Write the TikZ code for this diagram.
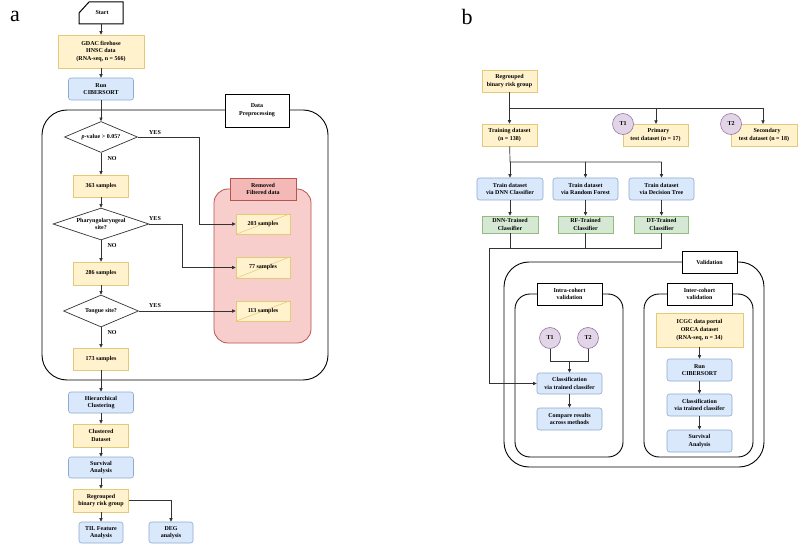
\documentclass[tikz,border=0pt]{standalone}
\usepackage{fontspec}
\setmainfont{Liberation Serif}
\usetikzlibrary{arrows.meta,shapes.geometric}
\definecolor{yfill}{HTML}{FFF2CC}\definecolor{ydraw}{HTML}{E3C979}
\definecolor{bfill}{HTML}{DAE8FC}\definecolor{bdraw}{HTML}{8FAAD0}
\definecolor{gfill}{HTML}{D5E8D4}\definecolor{gdraw}{HTML}{93BC7D}
\definecolor{pfill}{HTML}{E1D5E7}\definecolor{pdraw}{HTML}{9673A6}
\definecolor{rfill}{HTML}{F8CECC}\definecolor{rdraw}{HTML}{B85450}
\definecolor{rlab}{HTML}{F4B9B7}
\definecolor{ln}{HTML}{333333}
\begin{document}
\begin{tikzpicture}[x=1pt,y=-1pt,
  every node/.style={font=\fontsize{6}{7.6}\selectfont\bfseries, align=center, inner sep=0pt},
  ybox/.style={draw=ydraw, fill=yfill, line width=0.6pt},
  bbox/.style={draw=bdraw, fill=bfill, rounded corners=2.5pt, line width=0.6pt},
  gbox/.style={draw=gdraw, fill=gfill, line width=0.6pt},
  tcirc/.style={circle, draw=pdraw, fill=pfill, minimum size=21pt, line width=0.6pt},
  labbox/.style={draw=black, fill=white, line width=0.9pt},
  cont/.style={draw=black, line width=0.9pt},
  dia/.style={diamond, draw=ln, fill=white, line width=0.7pt},
  arr/.style={draw=ln, line width=0.7pt, -{Triangle[length=3.6pt,width=3.2pt]}},
  ln/.style={draw=ln, line width=0.7pt},
  yn/.style={font=\fontsize{6}{7}\selectfont\bfseries}]
\useasboundingbox (0,0) rectangle (800,545);
\fill[white] (0,0) rectangle (800,545);

% panel labels
\node[font=\fontsize{22}{22}\selectfont] (pa) at (15,16) {a};
\node[font=\fontsize{22}{22}\selectfont] (pb) at (467,17) {b};

% ===== Panel a =====
% containers
\draw[cont, rounded corners=25pt] (42,110) rectangle (328,380);
\node[labbox, minimum width=64pt, minimum height=33pt] (dpl) at (257,110.5) {Data\\Preprocessing};
\draw[draw=rdraw, fill=rfill, line width=0.8pt, rounded corners=14pt] (214,189) rectangle (311,343);
\node[draw=rdraw, fill=rlab, line width=0.8pt, minimum width=66pt, minimum height=22pt] (rml) at (263,189) {Removed\\Filtered data};

% start
\draw[line width=1pt] (79,24) -- (79,13) -- (89,2) -- (123,2) -- (123,24) -- cycle;
\node (start) at (102,13) {Start};
\coordinate (stb) at (101,24);

\node[ybox, minimum width=86pt, minimum height=33pt] (gdac) at (101,51.5) {GDAC firehose\\HNSC data\\(RNA-seq, n = 566)};
\node[bbox, minimum width=65pt, minimum height=22pt] (run1) at (101,89) {Run\\CIBERSORT};
\node[dia, minimum width=73pt, minimum height=31pt] (d1) at (101,137) {};
\node (d1t) at (101,137) {\textit{p}-value > 0.05?};
\node[ybox, minimum width=55pt, minimum height=22pt] (s363) at (101,186) {363 samples};
\node[dia, minimum width=96pt, minimum height=32pt] (d2) at (101,224) {};
\node (d2t) at (101,224) {Pharyngolaryngeal\\site?};
\node[ybox, minimum width=55pt, minimum height=23pt] (s286) at (101,273.5) {286 samples};
\node[dia, minimum width=75pt, minimum height=32pt] (d3) at (101,311) {};
\node (d3t) at (101,311) {Tongue site?};
\node[ybox, minimum width=55pt, minimum height=22pt] (s173) at (101,359) {173 samples};

\node[ybox, minimum width=54pt, minimum height=20pt] (r203) at (263,224) {};
\node[ybox, minimum width=54pt, minimum height=21pt] (r77) at (263,267.5) {};
\node[ybox, minimum width=54pt, minimum height=20pt] (r113) at (263,311) {};
\foreach \n in {r203,r77,r113} \draw[ydraw, line width=0.5pt] (\n.south west) -- (\n.north east);
\node (t203) at (263,224) {203 samples};
\node (t77) at (263,267.5) {77 samples};
\node (t113) at (263,311) {113 samples};

\node[bbox, minimum width=65pt, minimum height=21pt] (hc) at (101,402.5) {Hierarchical\\Clustering};
\node[ybox, minimum width=55pt, minimum height=23pt] (cd) at (101,435.5) {Clustered\\Dataset};
\node[bbox, minimum width=65pt, minimum height=21pt] (sa) at (101,467.5) {Survival\\Analysis};
\node[ybox, minimum width=55pt, minimum height=23pt] (rg) at (101,500.5) {Regrouped\\binary risk group};
\node[bbox, minimum width=44pt, minimum height=21pt] (til) at (101,532.5) {TIL Feature\\Analysis};
\node[bbox, minimum width=44pt, minimum height=21pt] (deg) at (171,532.5) {DEG\\analysis};

\draw[arr] (stb) -- (gdac);
\draw[arr] (gdac) -- (run1);
\draw[arr] (run1) -- (d1);
\draw[arr] (d1) -- (s363);
\draw[arr] (s363) -- (d2);
\draw[arr] (d2) -- (s286);
\draw[arr] (s286) -- (d3);
\draw[arr] (d3) -- (s173);
\draw[arr] (s173) -- (hc);
\draw[arr] (hc) -- (cd);
\draw[arr] (cd) -- (sa);
\draw[arr] (sa) -- (rg);
\draw[arr] (rg) -- (til);
\draw[arr] (rg.east) -| (deg.north);
\draw[arr] (d1.east) -- (199,137) |- (r203.west);
\draw[arr] (d2.east) -- (182,224) |- (r77.west);
\draw[arr] (d3.east) -- (r113.west);
\node[yn] (y1) at (155,133) {YES};
\node[yn] (y2) at (155,219) {YES};
\node[yn] (y3) at (155,306) {YES};
\node[yn] (n1) at (112,159) {NO};
\node[yn] (n2) at (112,246) {NO};
\node[yn] (n3) at (112,333) {NO};

% ===== Panel b =====
\node[ybox, minimum width=55pt, minimum height=22pt] (rg2) at (509.5,81) {Regrouped\\binary risk group};
\node[ybox, minimum width=55pt, minimum height=22pt] (train) at (509.5,135) {Training dataset\\(n = 138)};
\node[ybox, minimum width=65pt, minimum height=22pt] (prim) at (655.5,135) {\hspace*{6pt}Primary\\test dataset (n = 17)};
\node[ybox, minimum width=66pt, minimum height=22pt] (sec) at (764,135) {\hspace*{6pt}Secondary\\test dataset (n = 18)};
\node[tcirc] (t1) at (623,124) {T1};
\node[tcirc] (t2) at (731,124) {T2};
\coordinate (j1) at (509.5,108);
\draw[ln] (rg2) -- (j1);
\draw[ln] (j1) -- (763,108);
\draw[arr] (j1) -- (train);
\draw[arr] (656,108) -- (656,124);
\draw[arr] (763,108) -- (763,124);

\node[bbox, minimum width=66pt, minimum height=22pt] (dnn) at (510,189) {Train dataset\\via DNN Classifier};
\node[bbox, minimum width=65pt, minimum height=22pt] (rf) at (585.5,189) {Train dataset\\via Random Forest};
\node[bbox, minimum width=65pt, minimum height=22pt] (dt) at (661.5,189) {Train dataset\\via Decision Tree};
\node[gbox, minimum width=56pt, minimum height=17pt] (dnnc) at (510,224.5) {DNN-Trained\\Classifier};
\node[gbox, minimum width=55pt, minimum height=17pt] (rfc) at (585.5,224.5) {RF-Trained\\Classifier};
\node[gbox, minimum width=54pt, minimum height=17pt] (dtc) at (661.5,224.5) {DT-Trained\\Classifier};
\coordinate (j2) at (510,162);
\draw[ln] (train) -- (j2) -- (661.5,162);
\draw[arr] (j2) -- (dnn);
\draw[arr] (585.5,162) -- (rf);
\draw[arr] (661.5,162) -- (dt);
\draw[arr] (dnn) -- (dnnc);
\draw[arr] (rf) -- (rfc);
\draw[arr] (dt) -- (dtc);
\draw[ln] (dnnc) -- (510,248);
\draw[ln] (rfc) -- (585.5,248);
\draw[ln] (dtc) -- (661.5,248) -- (489,248);

% validation
\draw[cont, rounded corners=25pt] (504,262) rectangle (764,467);
\node[labbox, minimum width=55pt, minimum height=22pt] (vall) at (709.5,262) {Validation};
\draw[cont, rounded corners=15pt] (515,294) rectangle (623,457);
\node[labbox, minimum width=65pt, minimum height=22pt] (intl) at (569.5,294) {Intra-cohort\\validation};
\draw[cont, rounded corners=15pt] (644,294) rectangle (753,457);
\node[labbox, minimum width=65pt, minimum height=22pt] (extl) at (699.5,294) {Inter-cohort\\validation};

\node[tcirc] (t1b) at (550,338) {T1};
\node[tcirc] (t2b) at (588,338) {T2};
\node[bbox, minimum width=65pt, minimum height=21pt] (cls1) at (569.5,383.5) {Classification\\via trained classifer};
\node[bbox, minimum width=65pt, minimum height=22pt] (cmp) at (569.5,419) {Compare results\\across methods};
\coordinate (j3) at (569.5,361);
\draw[ln] (t1b) |- (j3);
\draw[ln] (t2b) |- (j3);
\draw[arr] (j3) -- (cls1);
\draw[arr] (cls1) -- (cmp);
\draw[arr] (489,248) |- (cls1.west);

\node[ybox, minimum width=87pt, minimum height=34pt] (icgc) at (699.5,330) {ICGC data portal\\ORCA dataset\\(RNA-seq, n = 34)};
\node[bbox, minimum width=65pt, minimum height=22pt] (run2) at (699.5,370) {Run\\CIBERSORT};
\node[bbox, minimum width=65pt, minimum height=22pt] (cls2) at (699.5,405) {Classification\\via trained classifer};
\node[bbox, minimum width=65pt, minimum height=22pt] (sa2) at (699.5,441) {Survival\\Analysis};
\draw[arr] (icgc) -- (run2);
\draw[arr] (run2) -- (cls2);
\draw[arr] (cls2) -- (sa2);
\end{tikzpicture}
\end{document}
